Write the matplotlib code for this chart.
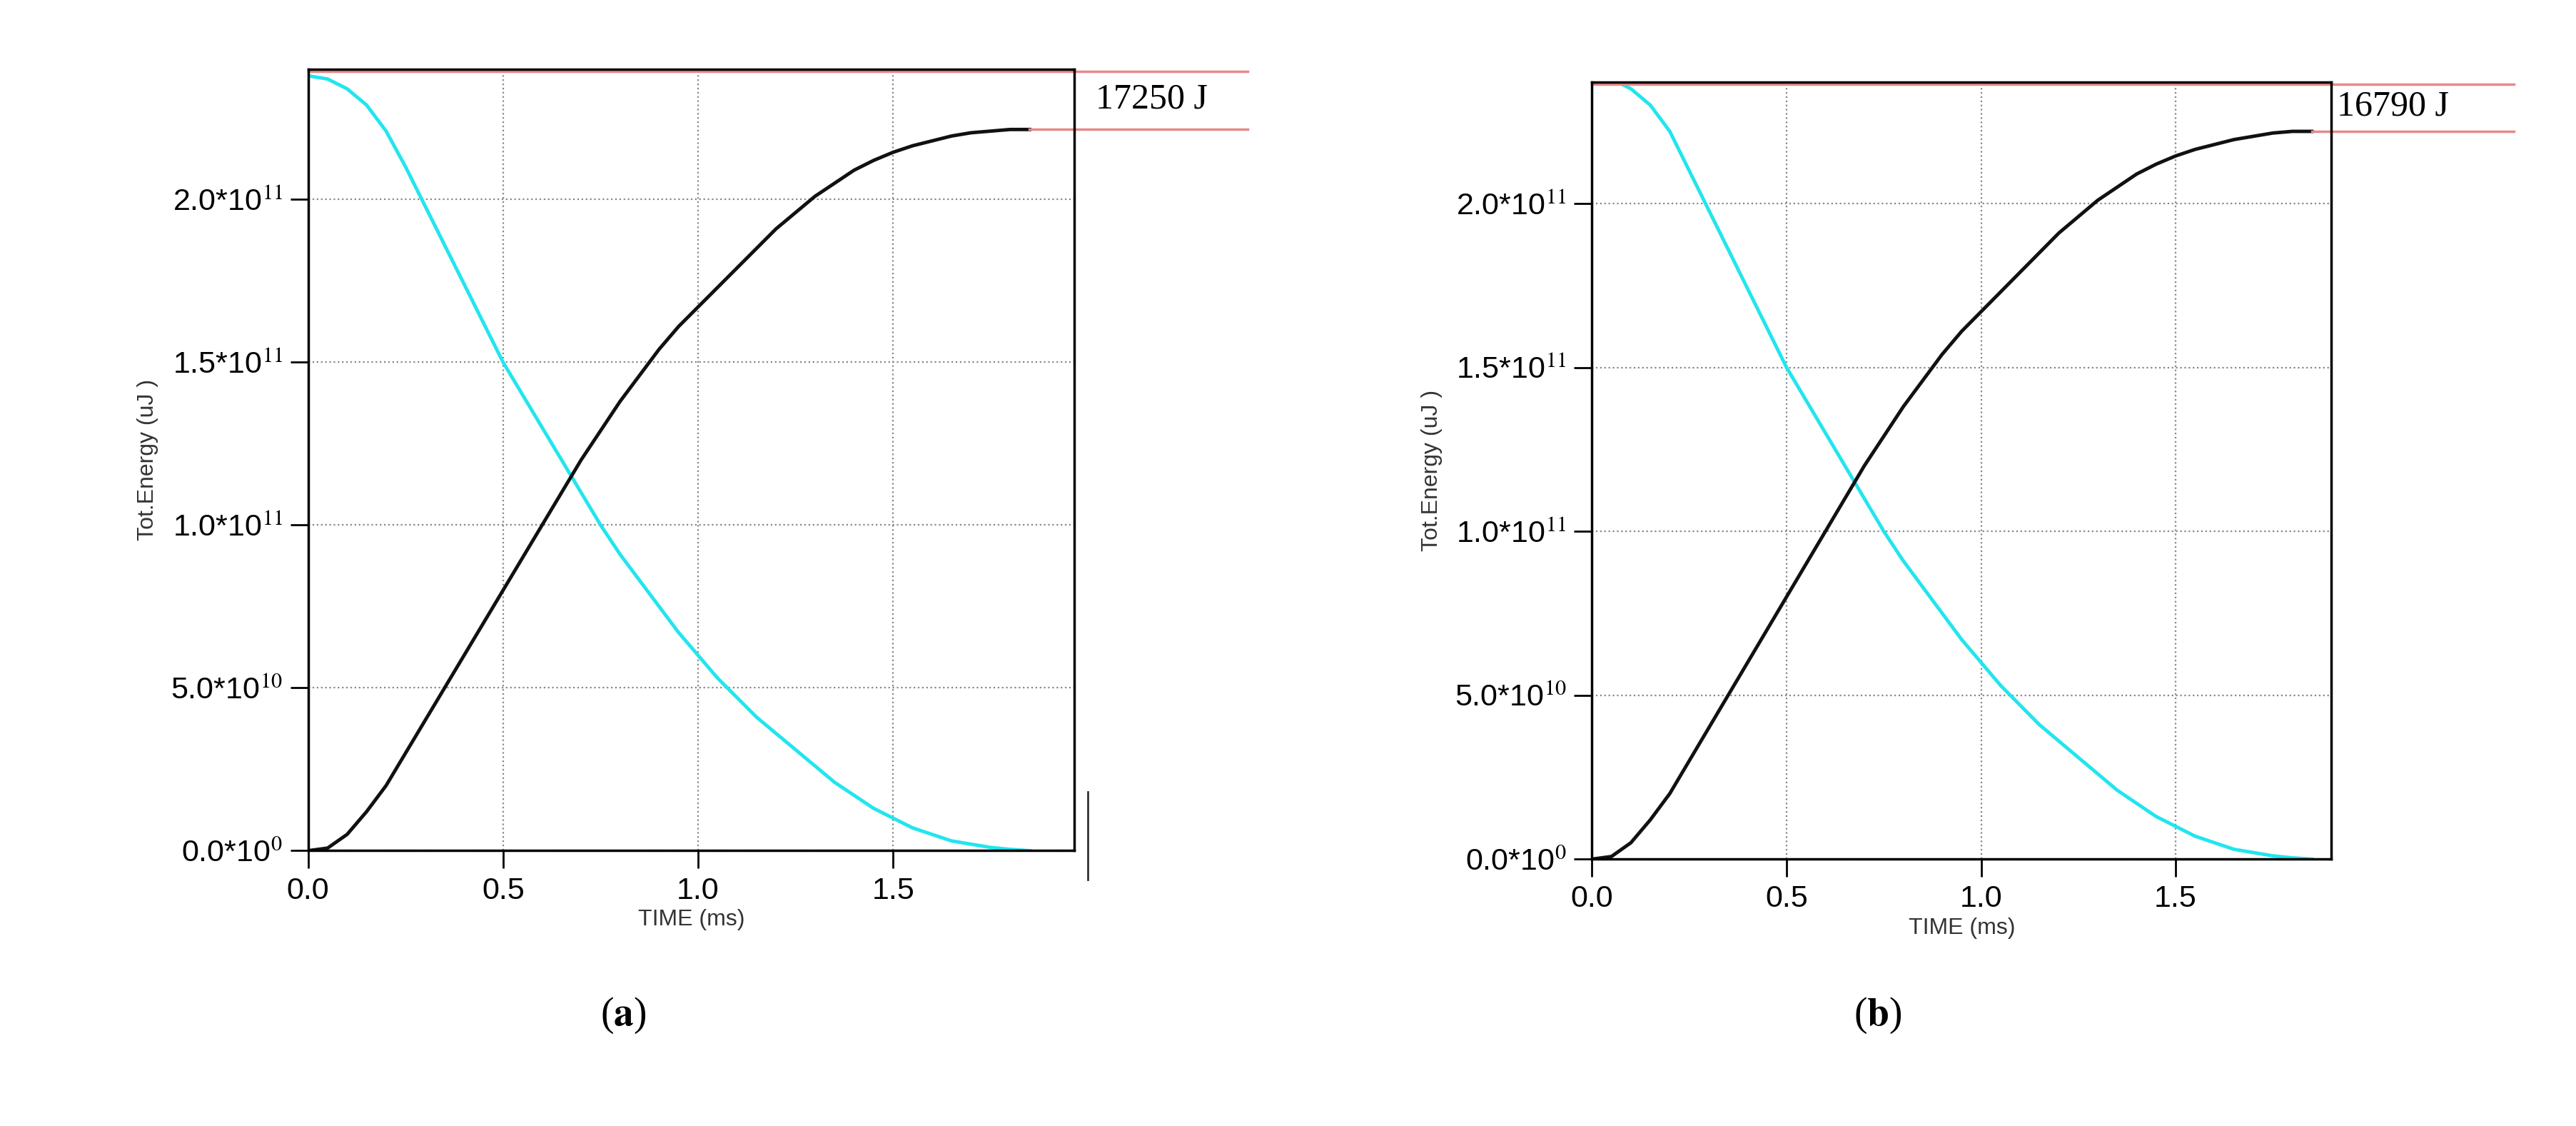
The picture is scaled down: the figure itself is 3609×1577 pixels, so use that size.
import numpy as np
import matplotlib.pyplot as plt

plt.rcParams['font.family'] = ['Liberation Sans', 'DejaVu Sans']
plt.rcParams['mathtext.fontset'] = 'stix'

# time (ms) and energies (uJ, in units of 1e11)
t = [0, 0.05, 0.1, 0.15, 0.2, 0.25, 0.3, 0.35, 0.4, 0.45, 0.5, 0.55, 0.6,
     0.65, 0.7, 0.75, 0.8, 0.85, 0.9, 0.95, 1.0, 1.05, 1.1, 1.15, 1.2, 1.25,
     1.3, 1.35, 1.4, 1.45, 1.5, 1.55, 1.6, 1.65, 1.7, 1.75, 1.8, 1.85]
gain_a = [0, 0.008, 0.05, 0.12, 0.2, 0.30, 0.40, 0.50, 0.60, 0.70, 0.80, 0.90,
          1.0, 1.1, 1.2, 1.29, 1.38, 1.46, 1.54, 1.61, 1.67, 1.73, 1.79, 1.85,
          1.91, 1.96, 2.01, 2.05, 2.09, 2.12, 2.145, 2.165, 2.18, 2.195, 2.205,
          2.21, 2.215, 2.215]
store_a = [2.38, 2.37, 2.34, 2.29, 2.21, 2.1, 1.98, 1.86, 1.74, 1.62, 1.50,
           1.40, 1.30, 1.20, 1.10, 1.0, 0.91, 0.83, 0.75, 0.67, 0.60, 0.53,
           0.47, 0.41, 0.36, 0.31, 0.26, 0.21, 0.17, 0.13, 0.10, 0.07, 0.05,
           0.03, 0.02, 0.01, 0.004, 0.0]
gain_b = [0, 0.008, 0.05, 0.12, 0.2, 0.30, 0.40, 0.50, 0.60, 0.70, 0.80, 0.90,
          1.0, 1.1, 1.2, 1.29, 1.38, 1.46, 1.54, 1.61, 1.67, 1.73, 1.79, 1.85,
          1.91, 1.96, 2.01, 2.05, 2.09, 2.12, 2.145, 2.165, 2.18, 2.195, 2.205,
          2.215, 2.22, 2.22]
store_b = [2.39, 2.38, 2.35, 2.30, 2.22, 2.1, 1.98, 1.86, 1.74, 1.62, 1.50,
           1.40, 1.30, 1.20, 1.10, 1.0, 0.91, 0.83, 0.75, 0.67, 0.60, 0.53,
           0.47, 0.41, 0.36, 0.31, 0.26, 0.21, 0.17, 0.13, 0.10, 0.07, 0.05,
           0.03, 0.02, 0.01, 0.004, 0.0]
labels = ['17250 J', '16790 J']
yticks = [0, 0.5e11, 1.0e11, 1.5e11, 2.0e11]
ytick_labels = [r'0.0*10$^{0}$', r'5.0*10$^{10}$', r'1.0*10$^{11}$',
                r'1.5*10$^{11}$', r'2.0*10$^{11}$']

fig = plt.figure(figsize=(36.09, 15.77), dpi=100)
panels = [
    dict(rect=[0.1196, 0.2445, 0.2975, 0.694], xmax=1.965, ymax=2.40e11,
         gain=gain_a, store=store_a, red_end=2.41, txt_x=2.02, tag='a', tag_x=0.242),
    dict(rect=[0.618, 0.237, 0.287, 0.690], xmax=1.90, ymax=2.37e11,
         gain=gain_b, store=store_b, red_end=2.37, txt_x=1.915, tag='b', tag_x=0.729),
]

for i, p in enumerate(panels):
    ax = fig.add_axes(p['rect'])
    tt = np.array(t)
    ax.plot(tt, np.array(p['store']) * 1e11, color='#22e5ee', lw=3.5)
    ax.plot(tt, np.array(p['gain']) * 1e11, color='#111111', lw=3.5)
    ax.set_xlim(0, p['xmax'])
    ax.set_ylim(0, p['ymax'])
    ax.set_xticks([0, 0.5, 1.0, 1.5])
    ax.set_xticklabels(['0.0', '0.5', '1.0', '1.5'])
    ax.set_yticks(yticks)
    ax.set_yticklabels(ytick_labels)
    ax.tick_params(labelsize=31, length=18, width=2, direction='out', pad=8)
    ax.grid(True, color='#888888', ls=':', lw=1.6)
    for s in ax.spines.values():
        s.set_linewidth(2.5)
    ax.set_xlabel('TIME (ms)', fontsize=23, color='#333333', labelpad=4)
    ax.set_ylabel('Tot.Energy (uJ )', fontsize=23, color='#333333', labelpad=12)

    # red reference lines and annotation
    end = p['gain'][-1] * 1e11
    ax.plot([0, p['red_end']], [p['ymax'] * 0.997] * 2, color='#e88888', lw=2.5, clip_on=False)
    ax.plot([t[-1], p['red_end']], [end, end], color='#e88888', lw=2.5, clip_on=False)
    ax.text(p['txt_x'], (p['ymax'] + end) / 2, labels[i], fontsize=36,
            family='Liberation Serif', va='center', ha='left', clip_on=False)
    if i == 0:
        ax.plot([2.0, 2.0], [-0.09e11, 0.18e11], color='#333333', lw=2, clip_on=False)

    fig.text(p['tag_x'], 0.098, r'($\mathbf{%s}$)' % p['tag'], fontsize=40,
             family='Liberation Serif', ha='center', va='center')

fig.savefig('out.png', dpi=100)
